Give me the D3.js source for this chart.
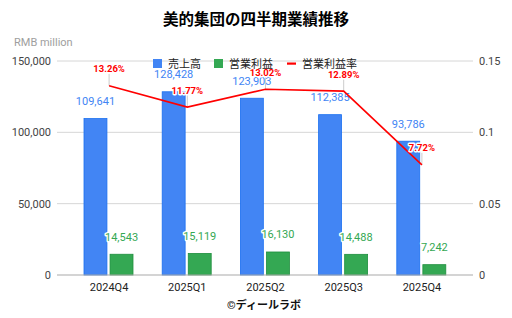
<!DOCTYPE html>
<html>
<head>
<meta charset="utf-8">
<script src="https://cdn.jsdelivr.net/npm/d3@7"></script>
<style>
  body { margin: 0; background: #fff; }
  text { font-family: Roboto, "Noto Sans CJK JP", sans-serif; }
</style>
</head>
<body>
<div id="chart"></div>
<script>
// data
let quarters = ["2024Q4", "2025Q1", "2025Q2", "2025Q3", "2025Q4"];
let revenue = [109641, 128428, 123903, 112385, 93786];
let opProfit = [14543, 15119, 16130, 14488, 7242];
let opMargin = [0.1326, 0.1177, 0.1302, 0.1289, 0.0772];
let leftTicks = [0, 50000, 100000, 150000];
let rightTicks = [0, 0.05, 0.1, 0.15];

let width = 512, height = 318;
let plotLeft = 57, plotRight = 473, plotTop = 61, plotBottom = 275;

let blue = "#4285f4", green = "#34a853", red = "#ff0000";

let svg = d3.select("#chart").append("svg")
  .attr("width", width)
  .attr("height", height);

// scales
let x0 = d3.scaleBand().domain(quarters).range([70, 461]);
let x1 = d3.scaleBand().domain(["rev", "op"]).range([14, 63]).paddingInner(0.12);
let yL = d3.scaleLinear().domain([0, 150000]).range([plotBottom, plotTop]);
let yR = d3.scaleLinear().domain([0, 0.15]).range([plotBottom, plotTop]);

// title
svg.append("text")
  .attr("x", 256).attr("y", 25)
  .attr("text-anchor", "middle")
  .attr("font-size", 15.5).attr("font-weight", "bold")
  .attr("fill", "#000")
  .text("美的集団の四半期業績推移");

svg.append("text")
  .attr("x", 14).attr("y", 46)
  .attr("font-size", 11).attr("fill", "#9e9e9e")
  .text("RMB million");

// gridlines
svg.append("g").selectAll("line")
  .data(leftTicks.filter(d => d > 0))
  .join("line")
  .attr("x1", plotLeft).attr("x2", plotRight)
  .attr("y1", d => yL(d)).attr("y2", d => yL(d))
  .attr("stroke", "#d6d6d6").attr("stroke-width", 1);

// left axis
let leftAxis = d3.axisLeft(yL).tickValues(leftTicks).tickSize(0).tickPadding(6)
  .tickFormat(d3.format(","));
svg.append("g")
  .attr("transform", "translate(" + plotLeft + ",0)")
  .call(leftAxis)
  .call(g => g.select(".domain").remove())
  .call(g => g.selectAll("text").attr("font-size", 11).attr("fill", "#444")
    .style("font-family", "Roboto, sans-serif"));

// right axis
let rightAxis = d3.axisRight(yR).tickValues(rightTicks).tickSize(0).tickPadding(6)
  .tickFormat(d => d === 0 ? "0" : String(d));
svg.append("g")
  .attr("transform", "translate(" + plotRight + ",0)")
  .call(rightAxis)
  .call(g => g.select(".domain").remove())
  .call(g => g.selectAll("text").attr("font-size", 11).attr("fill", "#444")
    .style("font-family", "Roboto, sans-serif"));

// bars
let groups = svg.append("g").selectAll("g")
  .data(quarters)
  .join("g")
  .attr("transform", d => "translate(" + x0(d) + ",0)");

groups.append("rect")
  .attr("x", x1("rev"))
  .attr("y", (d, i) => yL(revenue[i]))
  .attr("width", x1.bandwidth())
  .attr("height", (d, i) => plotBottom - yL(revenue[i]))
  .attr("fill", blue).attr("stroke", "#1a6ff0").attr("stroke-width", 0.8);

groups.append("rect")
  .attr("x", x1("op"))
  .attr("y", (d, i) => yL(opProfit[i]))
  .attr("width", x1.bandwidth())
  .attr("height", (d, i) => plotBottom - yL(opProfit[i]))
  .attr("fill", green).attr("stroke", "#1e8e3e").attr("stroke-width", 0.8);

// baseline
svg.append("line")
  .attr("x1", plotLeft).attr("x2", plotRight)
  .attr("y1", plotBottom).attr("y2", plotBottom)
  .attr("stroke", "#aaa").attr("stroke-width", 1.2);

// x labels
svg.append("g").selectAll("text")
  .data(quarters)
  .join("text")
  .attr("x", d => x0(d) + x0.bandwidth() / 2)
  .attr("y", 291)
  .attr("text-anchor", "middle")
  .attr("font-size", 11).attr("fill", "#222")
  .text(d => d);

let cx = d => x0(d) + x0.bandwidth() / 2;

// annotation stems
svg.append("g").selectAll("line")
  .data(quarters)
  .join("line")
  .attr("x1", d => cx(d)).attr("x2", d => cx(d))
  .attr("y1", (d, i) => yR(opMargin[i]))
  .attr("y2", (d, i) => yR(opMargin[i]) - 12)
  .attr("stroke", "#ccc").attr("stroke-width", 1);

// margin line
let line = d3.line()
  .x(d => cx(d))
  .y((d, i) => yR(opMargin[i]));
svg.append("path")
  .datum(quarters)
  .attr("d", line)
  .attr("fill", "none")
  .attr("stroke", red).attr("stroke-width", 1.6);

// value labels with white halo
function halo(sel) {
  sel.attr("stroke", "#fff").attr("stroke-width", 3)
    .attr("stroke-linejoin", "round").attr("paint-order", "stroke");
}

groups.append("text")
  .attr("x", x1("rev") + x1.bandwidth() / 2)
  .attr("y", (d, i) => yL(revenue[i]) - 13.5)
  .attr("text-anchor", "middle")
  .attr("font-size", 11).attr("fill", blue)
  .call(halo)
  .text((d, i) => d3.format(",")(revenue[i]));

groups.append("text")
  .attr("x", x1("op") + x1.bandwidth() / 2)
  .attr("y", (d, i) => yL(opProfit[i]) - 13.5)
  .attr("text-anchor", "middle")
  .attr("font-size", 11).attr("fill", green)
  .call(halo)
  .text((d, i) => d3.format(",")(opProfit[i]));

svg.append("g").selectAll("text")
  .data(quarters)
  .join("text")
  .attr("x", d => cx(d))
  .attr("y", (d, i) => yR(opMargin[i]) - 13.5)
  .attr("text-anchor", "middle")
  .attr("font-size", 9.5).attr("font-weight", "bold").attr("fill", red)
  .call(halo)
  .text((d, i) => (opMargin[i] * 100).toFixed(2) + "%");

// legend
let legend = svg.append("g").attr("transform", "translate(0,63.5)");
let legendItems = [
  { name: "売上高", x: 153, color: blue, type: "rect" },
  { name: "営業利益", x: 214, color: green, type: "rect" },
  { name: "営業利益率", x: 287, color: red, type: "line" }
];
legendItems.forEach(function(it) {
  if (it.type === "rect") {
    legend.append("rect")
      .attr("x", it.x).attr("y", -4.5)
      .attr("width", 9).attr("height", 9)
      .attr("fill", it.color);
  } else {
    legend.append("rect")
      .attr("x", it.x).attr("y", -1)
      .attr("width", 9).attr("height", 2.2)
      .attr("fill", it.color);
  }
  legend.append("text")
    .attr("x", it.x + 15).attr("y", 4)
    .attr("font-size", 11).attr("fill", "#222")
    .text(it.name);
});

// credit
svg.append("text")
  .attr("x", 264).attr("y", 309)
  .attr("text-anchor", "middle")
  .attr("font-size", 11).attr("font-weight", "bold").attr("fill", "#111")
  .text("©ディールラボ");
</script>
</body>
</html>
